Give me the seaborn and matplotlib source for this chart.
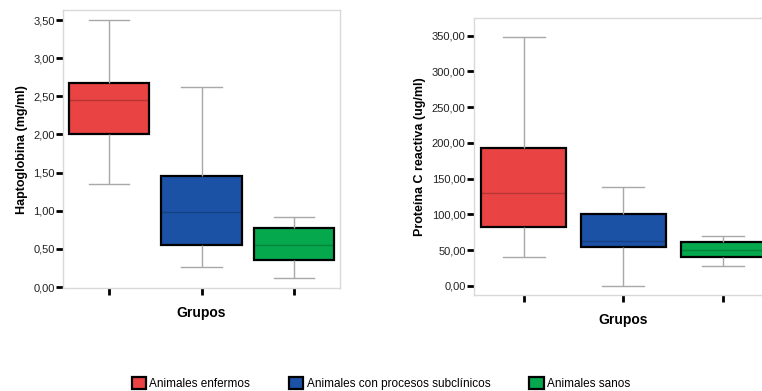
import matplotlib
matplotlib.use("Agg")
import matplotlib.pyplot as plt
import seaborn as sns
import pandas as pd

# Groups and their colours
groups = ["Animales enfermos", "Animales con procesos subclínicos", "Animales sanos"]
colors = ["#ea4343", "#1c52a6", "#05a84c"]

# Haptoglobina (mg/ml): five-number summaries
hapto_min = [1.35, 0.26, 0.12]
hapto_q1 = [2.00, 0.55, 0.36]
hapto_med = [2.45, 0.98, 0.55]
hapto_q3 = [2.67, 1.45, 0.77]
hapto_max = [3.50, 2.62, 0.92]

# Proteína C reactiva (ug/ml)
pcr_min = [40.0, 0.0, 28.0]
pcr_q1 = [83.0, 55.0, 40.0]
pcr_med = [130.0, 63.0, 50.0]
pcr_q3 = [193.0, 100.0, 61.0]
pcr_max = [348.0, 139.0, 70.0]


def long_table(mins, q1s, meds, q3s, maxs):
    rows = []
    for g, *vals in zip(groups, mins, q1s, meds, q3s, maxs):
        for v in vals:
            rows.append({"Grupos": g, "valor": v})
    return pd.DataFrame(rows)


def comma_fmt(v, pos):
    return f"{v:.2f}".replace(".", ",")


def draw_box(ax, df, width, ylabel):
    sns.boxplot(data=df, x="Grupos", y="valor", hue="Grupos", palette=colors,
                order=groups, hue_order=groups, width=width, whis=(0, 100),
                saturation=1, linecolor="black", linewidth=1.6, legend=True, ax=ax,
                whiskerprops={"color": "#a8a8a8", "linewidth": 1.0},
                capprops={"color": "#a8a8a8", "linewidth": 1.0},
                medianprops={"color": (0, 0, 0, 0.22), "linewidth": 1.0})
    ax.set_xlim(-0.5, 2.5)
    ax.set_xticks([0, 1, 2])
    ax.set_xticklabels([])
    ax.set_xlabel("Grupos", fontsize=10, fontweight="bold", labelpad=6)
    ax.set_ylabel(ylabel, fontsize=9, fontweight="bold")
    ax.yaxis.set_major_formatter(plt.FuncFormatter(comma_fmt))
    ax.tick_params(axis="y", direction="out", length=5, width=2, labelsize=8,
                   pad=1, labelcolor="#222222")
    ax.tick_params(axis="x", direction="out", length=5, width=2, pad=2)
    for s in ax.spines.values():
        s.set_color("#d9d9d9")
        s.set_linewidth(1.0)
    ax.grid(False)


plt.rcParams["font.family"] = ["Liberation Sans", "DejaVu Sans"]
fig = plt.figure(figsize=(7.62, 3.91), dpi=100)
ax1 = fig.add_axes([0.0827, 0.2634, 0.3635, 0.7106])
ax2 = fig.add_axes([0.622, 0.2455, 0.392, 0.709])

draw_box(ax1, long_table(hapto_min, hapto_q1, hapto_med, hapto_q3, hapto_max),
         0.87, "Haptoglobina (mg/ml)")
ax1.set_ylim(-0.013, 3.63)
ax1.set_yticks([0, 0.5, 1, 1.5, 2, 2.5, 3, 3.5])

draw_box(ax2, long_table(pcr_min, pcr_q1, pcr_med, pcr_q3, pcr_max),
         0.85, "Proteína C reactiva (ug/ml)")
ax2.set_ylim(-12.6, 375)
ax2.set_yticks([0, 50, 100, 150, 200, 250, 300, 350])

handles, labels = ax1.get_legend_handles_labels()
ax1.get_legend().remove()
ax2.get_legend().remove()
fig.legend(handles, labels, loc="lower center", bbox_to_anchor=(0.5, -0.025),
           ncol=3, frameon=False, handlelength=1.2, handleheight=1.2,
           handletextpad=0.3, columnspacing=3.3, fontsize=8.5)

fig.savefig("out.png", dpi=100)
